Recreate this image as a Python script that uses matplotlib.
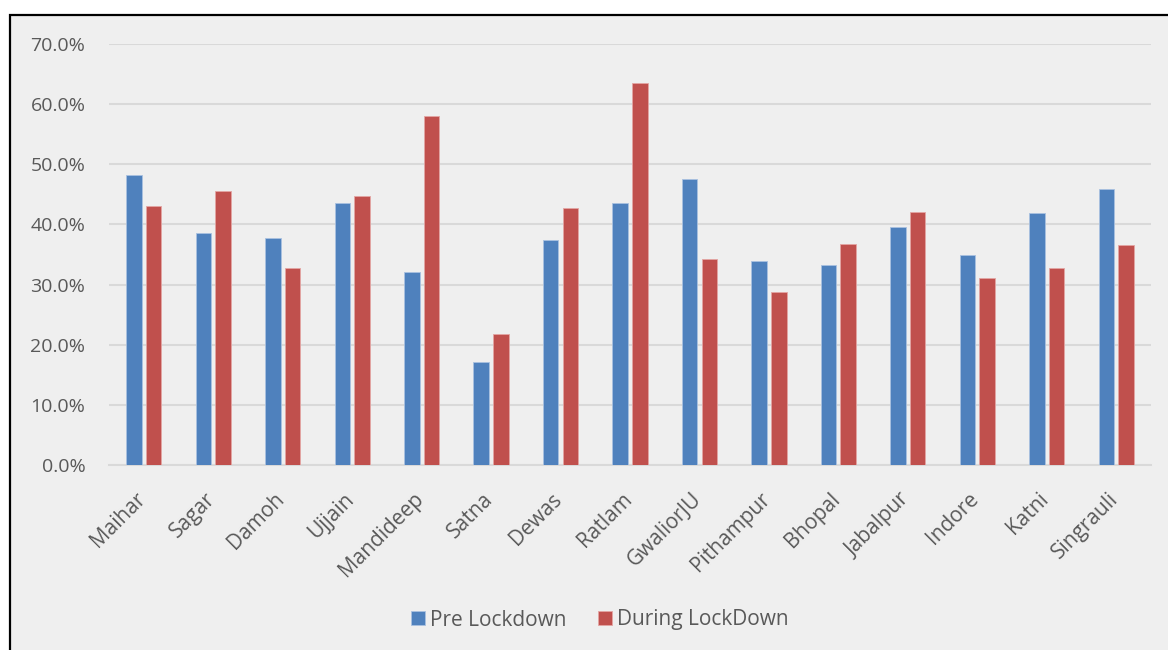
import numpy as np
import matplotlib.pyplot as plt
import matplotlib.transforms as mtransforms
from matplotlib.patches import Rectangle
from matplotlib.ticker import PercentFormatter

cities = ["Maihar", "Sagar", "Damoh", "Ujjain", "Mandideep", "Satna", "Dewas",
          "Ratlam", "GwaliorJU", "Pithampur", "Bhopal", "Jabalpur", "Indore",
          "Katni", "Singrauli"]
pre = [48.2, 38.6, 37.8, 43.6, 32.1, 17.1, 37.4, 43.5, 47.6, 34.0, 33.3, 39.6, 35.0, 41.9, 45.9]
during = [43.1, 45.6, 32.7, 44.7, 58.1, 21.8, 42.8, 63.5, 34.3, 28.7, 36.8, 42.1, 31.1, 32.8, 36.5]

plt.rcParams['font.family'] = ['Open Sans', 'DejaVu Sans']
txt = "#595959"
bg = "#EFEFEF"

fig = plt.figure(figsize=(11.68, 6.5), dpi=100)
fig.patch.set_facecolor("white")
# chart frame
fig.patches.append(Rectangle((10 / 1168, -0.1), 1.2, (650 - 15) / 650 + 0.1,
                             transform=fig.transFigure, facecolor=bg,
                             edgecolor="black", linewidth=1.6, zorder=-1))

ax = fig.add_axes([109 / 1168, (650 - 465) / 650, (1151 - 109) / 1168, (465 - 44) / 650])
ax.set_zorder(1)
ax.patch.set_alpha(0)

x = np.arange(len(cities))
w = 0.223
gap = 0.06
ax.bar(x - (w + gap) / 2, pre, w, color="#4F81BD", edgecolor="#A9C1E0", linewidth=0.6,
       label="Pre Lockdown", zorder=3)
ax.bar(x + (w + gap) / 2, during, w, color="#C0504D", edgecolor="#E3A5A3", linewidth=0.6,
       label="During LockDown", zorder=3)

ax.set_xlim(-0.5, len(cities) - 0.5)
ax.set_ylim(0, 70)
ax.set_yticks(np.arange(0, 71, 10))
ax.yaxis.set_major_formatter(PercentFormatter(decimals=1))
ax.grid(axis="y", color="#D9D9D9", linewidth=1.5, zorder=0)
ax.set_axisbelow(True)
for s in ["top", "right", "left"]:
    ax.spines[s].set_visible(False)
ax.spines["bottom"].set_color("#D9D9D9")
ax.spines["bottom"].set_linewidth(1.5)
ax.tick_params(axis="both", length=0, labelcolor=txt)
ax.tick_params(axis="y", pad=17, labelsize=14)
ax.tick_params(axis="x", pad=17, labelsize=15)
ax.set_xticks(x)
ax.set_xticklabels(cities, rotation=45, ha="right", va="top")
shift = mtransforms.ScaledTranslation(6 / 100, 0, fig.dpi_scale_trans)
for lab in ax.get_xticklabels():
    lab.set_transform(lab.get_transform() + shift)

leg = fig.legend(loc="center", bbox_to_anchor=(600 / 1168, (650 - 620) / 650), ncol=2,
                 frameon=False, fontsize=15, handlelength=0.67, handleheight=0.67,
                 handletextpad=0.25, columnspacing=1.5, labelcolor=txt)

fig.savefig("out.png", dpi=100, facecolor=fig.get_facecolor())
